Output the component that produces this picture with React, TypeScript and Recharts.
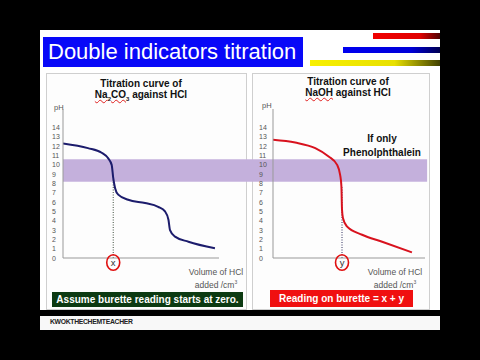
import { LineChart, Line, XAxis, YAxis, ReferenceArea, ReferenceLine } from 'recharts'

// pH ticks on both charts
const pHTicks = [0, 1, 2, 3, 4, 5, 6, 7, 8, 9, 10, 11, 12, 13, 14]

// Na2CO3 against HCl (volume added /cm3, pH)
const carbonateVolume = [0, 8, 12.4, 14.5, 15.6, 16.1, 16.7, 17.7, 20.9, 26.3, 30.5, 32.7, 33.8, 34.3, 35.9, 40.2, 48.7]
const carbonatePH = [12.3, 11.8, 11.3, 10.7, 10.0, 8.6, 7.5, 6.8, 6.25, 5.9, 5.5, 5.0, 4.1, 3.0, 2.3, 1.75, 1.05]

// NaOH against HCl
const hydroxideVolume = [0, 7.3, 13.9, 18.3, 21.1, 22.1, 22.5, 22.7, 23.0, 24.3, 29.3, 35.9, 45.7]
const hydroxidePH = [12.7, 12.4, 11.8, 10.9, 10.0, 8.9, 7.7, 5.2, 4.3, 3.4, 2.5, 1.75, 0.6]

// phenolphthalein colour change range
const phenolphthaleinRange = [8.2, 10.6]

// end points read with phenolphthalein
const firstEndPoint = { volume: 16.1, pH: 8.6, letter: 'x' }
const totalEndPoint = { volume: 22.7, pH: 7.6, letter: 'y' }

const carbonateData = carbonateVolume.map((v, i) => ({ v, pH: carbonatePH[i] }))
const hydroxideData = hydroxideVolume.map((v, i) => ({ v, pH: hydroxidePH[i] }))

const FONT = '"Liberation Sans", Arial, sans-serif'

function PHTick({ y, payload, labelX }: any) {
  return (
    <text x={labelX} y={y} dy={2.5} fontSize={7} fill="#555" fontFamily={FONT} textAnchor="start">
      {payload.value}
    </text>
  )
}

function EndPointTick({ x, y, letter }: any) {
  return (
    <g>
      <ellipse cx={x} cy={y + 4.5} rx={6.5} ry={7.8} fill="none" stroke="#e01010" strokeWidth={1.6} />
      <text x={x} y={y + 8} fontSize={9.5} fill="#333" fontFamily={FONT} textAnchor="middle">
        {letter}
      </text>
    </g>
  )
}

interface ChartProps {
  data: { v: number; pH: number }[]
  color: string
  dotColor: string
  end: { volume: number; pH: number; letter: string }
  left: number
  width: number
  margin: { top: number; right: number; left: number; bottom: number }
  labelX: number
  band: [number, number]
}

function TitrationChart({ data, color, dotColor, end, left, width, margin, labelX, band }: ChartProps) {
  return (
    <div style={{ position: 'absolute', left, top: 100 }}>
      <LineChart width={width} height={180} data={data} margin={margin}>
        <ReferenceArea
          x1={band[0]}
          x2={band[1]}
          y1={phenolphthaleinRange[0]}
          y2={phenolphthaleinRange[1]}
          fill="#c4b0dc"
          fillOpacity={1}
          stroke="none"
          ifOverflow="visible"
        />
        <ReferenceLine
          segment={[
            { x: end.volume, y: 0 },
            { x: end.volume, y: end.pH },
          ]}
          stroke={dotColor}
          strokeDasharray="1 1.5"
          strokeWidth={1}
          ifOverflow="visible"
        />
        <XAxis
          dataKey="v"
          type="number"
          domain={[0, 50]}
          allowDataOverflow
          ticks={[end.volume]}
          interval={0}
          tickLine={false}
          tickSize={0}
          tickMargin={0}
          height={16}
          axisLine={{ stroke: '#999' }}
          tick={(p: any) => <EndPointTick {...p} letter={end.letter} />}
        />
        <YAxis
          type="number"
          domain={[0, 16]}
          allowDataOverflow
          ticks={pHTicks}
          interval={0}
          width={10}
          tickLine={false}
          axisLine={{ stroke: '#999' }}
          tick={(p: any) => <PHTick {...p} labelX={labelX} />}
        />
        <Line
          type="monotone"
          dataKey="pH"
          stroke={color}
          strokeWidth={2}
          dot={false}
          isAnimationActive={false}
        />
      </LineChart>
    </div>
  )
}

const abs = (style: any) => ({ position: 'absolute' as const, ...style })

export default function App() {
  return (
    <div
      style={{
        position: 'fixed',
        left: 0,
        top: 0,
        width: 480,
        height: 360,
        background: '#000',
        overflow: 'hidden',
        fontFamily: FONT,
      }}
    >
      {/* slide */}
      <div style={abs({ left: 40, top: 30, width: 400, height: 280, background: '#fff' })} />
      <div style={abs({ left: 40, top: 316, width: 400, height: 14, background: '#f8f8f8' })} />
      <div style={abs({ left: 50, top: 318, fontSize: 6.8, fontWeight: 700, color: '#222', letterSpacing: -0.3 })}>
        KWOKTHECHEMTEACHER
      </div>

      {/* title */}
      <div style={abs({ left: 43, top: 37, width: 260, height: 30, background: '#0808f8' })} />
      <div style={abs({ left: 48, top: 37, lineHeight: '30px', fontSize: 22, color: '#fff', whiteSpace: 'nowrap' })}>
        Double indicators titration
      </div>
      <div style={abs({ left: 373, top: 33, width: 67, height: 6, background: 'linear-gradient(to right, #f00000 0%, #e00000 70%, #500000 100%)' })} />
      <div style={abs({ left: 343, top: 47, width: 97, height: 6, background: 'linear-gradient(to right, #0000f0 0%, #0000d8 70%, #000050 100%)' })} />
      <div style={abs({ left: 310, top: 60, width: 130, height: 6, background: 'linear-gradient(to right, #f8f000 0%, #e8e000 65%, #404000 100%)' })} />

      {/* panels */}
      <div style={abs({ left: 46, top: 73, width: 199, height: 235, border: '1px solid #cfcfcf', background: '#fdfdfd' })} />
      <div style={abs({ left: 252, top: 73, width: 176, height: 235, border: '1px solid #cfcfcf', background: '#fdfdfd' })} />

      {/* left panel texts */}
      <div style={abs({ left: 46, width: 190, top: 78, textAlign: 'center', fontSize: 10, fontWeight: 700, color: '#111', lineHeight: '11px' })}>
        Titration curve of
        <br />
        <span style={{ textDecoration: 'underline wavy #e02020', textDecorationThickness: 1 }}>
          Na<sub style={{ fontSize: 6 }}>2</sub>CO<sub style={{ fontSize: 6 }}>3</sub>
        </span>{' '}
        against HCl
      </div>
      <div style={abs({ left: 54, top: 103, fontSize: 7.5, color: '#555' })}>pH</div>
      <div style={abs({ left: 176, top: 267, width: 80, textAlign: 'center', fontSize: 8.5, color: '#555', lineHeight: '10px' })}>
        Volume of HCl
        <br />
        added /cm<sup style={{ fontSize: 5 }}>3</sup>
      </div>

      {/* right panel texts */}
      <div style={abs({ left: 298, width: 100, top: 76, textAlign: 'center', fontSize: 10, fontWeight: 700, color: '#111', lineHeight: '11px' })}>
        Titration curve of
        <br />
        <span style={{ textDecoration: 'underline wavy #e02020', textDecorationThickness: 1 }}>NaOH</span> against HCl
      </div>
      <div style={abs({ left: 262, top: 101, fontSize: 7.5, color: '#555' })}>pH</div>
      <div style={abs({ left: 337, width: 90, top: 132, textAlign: 'center', fontSize: 10, fontWeight: 700, color: '#111', lineHeight: '13.5px' })}>
        If only
        <br />
        Phenolphthalein
      </div>

      <TitrationChart
        data={carbonateData}
        color="#1c1c6c"
        dotColor="#3c4c3c"
        end={firstEndPoint}
        left={46}
        width={206}
        margin={{ top: 9, right: 33, left: 7, bottom: 6 }}
        labelX={6}
        band={[0, 61]}
      />
      <TitrationChart
        data={hydroxideData}
        color="#d8121e"
        dotColor="#2c2c5c"
        end={totalEndPoint}
        left={252}
        width={178}
        margin={{ top: 9, right: 5, left: 11, bottom: 6 }}
        labelX={7}
        band={[-7, 50.7]}
      />

      <div style={abs({ left: 350, top: 267, width: 90, textAlign: 'center', fontSize: 8.5, color: '#555', lineHeight: '10px' })}>
        Volume of HCl
        <br />
        added /cm<sup style={{ fontSize: 5 }}>3</sup>
      </div>

      {/* bottom notes */}
      <div style={abs({ left: 52, top: 292, width: 191, height: 15, background: '#0c3a12', color: '#fff', fontSize: 10, fontWeight: 700, lineHeight: '15px', textAlign: 'center', whiteSpace: 'nowrap' })}>
        Assume burette reading starts at zero.
      </div>
      <div style={abs({ left: 270, top: 290, width: 143, height: 17, background: '#f01010', color: '#fff', fontSize: 10, fontWeight: 700, lineHeight: '17px', textAlign: 'center', whiteSpace: 'nowrap' })}>
        Reading on burette = x + y
      </div>
    </div>
  )
}
